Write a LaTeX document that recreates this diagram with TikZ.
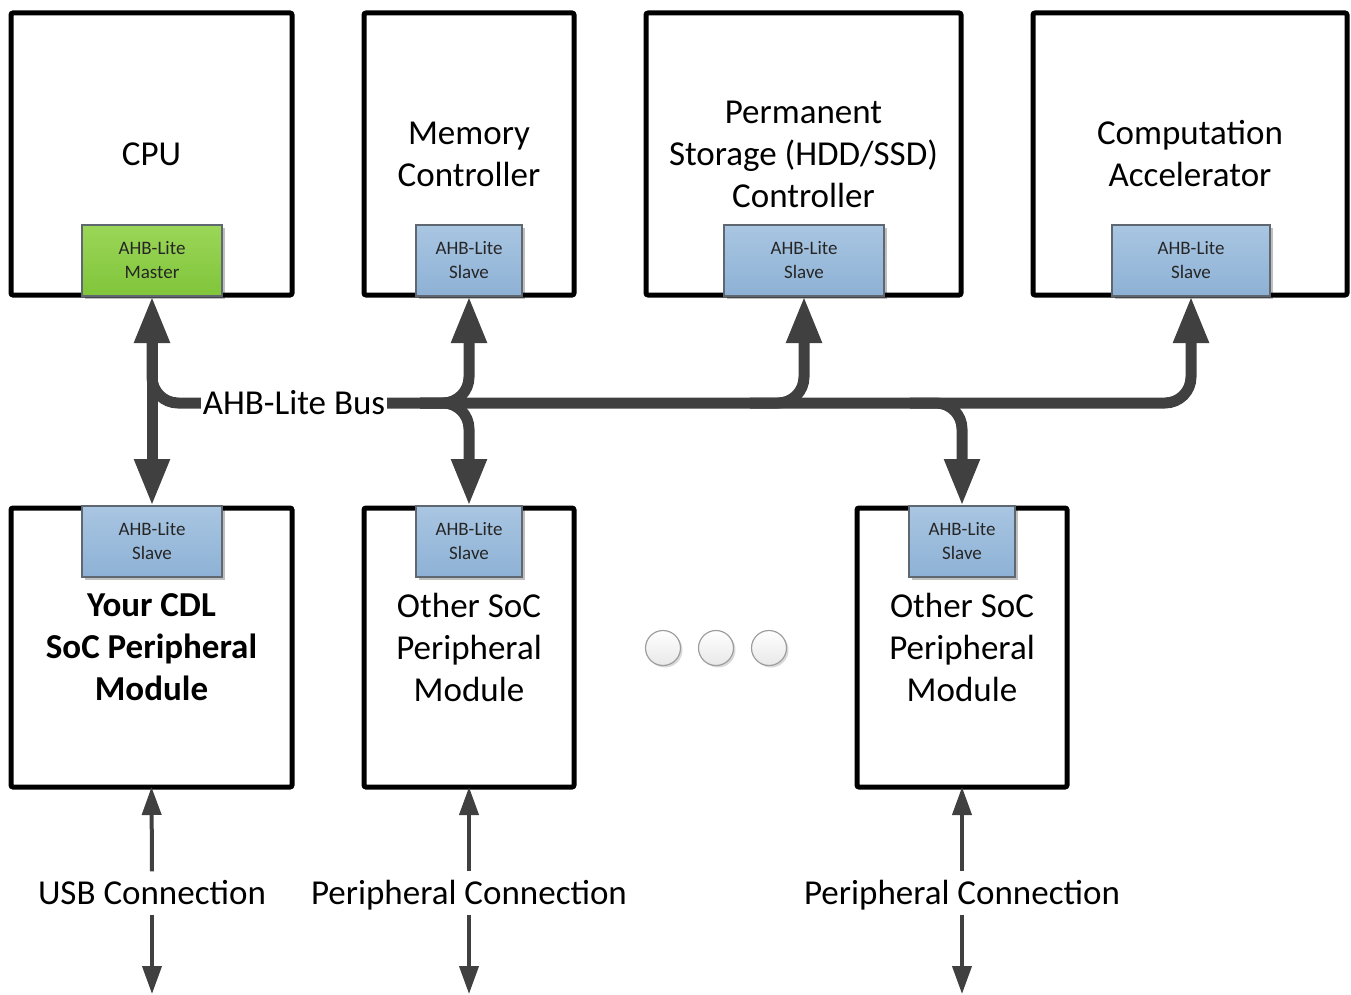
\documentclass[tikz,border=0pt]{standalone}
\usepackage{fontspec}
\setmainfont{Carlito}
\usetikzlibrary{arrows.meta,shadows}
\definecolor{busgray}{HTML}{404040}
\definecolor{bluetop}{HTML}{A9C6E2}
\definecolor{bluebot}{HTML}{8DB1D5}
\definecolor{greentop}{HTML}{9BD658}
\definecolor{greenbot}{HTML}{80C53A}
\definecolor{badgeline}{HTML}{5F6770}
\begin{document}
\begin{tikzpicture}[x=1pt,y=-1pt,
  box/.style={draw=black, line width=5pt, rounded corners=2pt, fill=white, align=center,
    font=\fontsize{35}{42}\selectfont, inner sep=0pt, outer sep=0pt},
  badge/.style={draw=badgeline, line width=1.3pt, align=center, inner sep=0pt, outer sep=0pt,
    minimum height=71pt, font=\fontsize{19}{24}\selectfont, text=black!85,
    drop shadow={shadow xshift=2.5pt, shadow yshift=-2.5pt, opacity=0.25, fill=black}},
  slave/.style={badge, top color=bluetop, bottom color=bluebot},
  master/.style={badge, top color=greentop, bottom color=greenbot},
  bus/.style={draw=busgray, line width=11pt, rounded corners=26pt},
  bigtip/.style={-{Triangle[width=33pt,length=47pt]}},
  thinarrow/.style={draw=busgray, line width=4pt, -{Triangle[width=19pt,length=28pt]}},
  conn/.style={font=\fontsize{35}{42}\selectfont, text height=23pt, text depth=0pt, inner xsep=0pt, inner ysep=10pt},
  dot/.style={circle, minimum size=35pt, inner sep=0pt, draw=black!38, line width=1.2pt,
    top color=white, bottom color=black!9,
    drop shadow={shadow xshift=2pt, shadow yshift=-2pt, opacity=0.15, fill=black}}
]
\useasboundingbox (0,0) rectangle (1351,995);

% top boxes
\node[box, minimum width=281pt, minimum height=282pt] (cpu) at (151.5,154) {CPU};
\node[box, minimum width=210pt, minimum height=282pt] (mem) at (469,154) {Memory\\Controller};
\node[box, minimum width=315pt, minimum height=282pt] (sto) at (803.5,154) {Permanent\\Storage (HDD/SSD)\\Controller};
\node[box, minimum width=314pt, minimum height=282pt] (acc) at (1190,154) {Computation\\Accelerator};

% bottom boxes
\node[box, minimum width=281pt, minimum height=279pt] (cdl) at (151.5,647.5) {\bfseries Your CDL\\\bfseries SoC Peripheral\\\bfseries Module};
\node[box, minimum width=210pt, minimum height=279pt] (oth1) at (469,647.5) {Other SoC\\Peripheral\\Module};
\node[box, minimum width=210pt, minimum height=279pt] (oth2) at (962,647.5) {Other SoC\\Peripheral\\Module};

% badges
\node[master, minimum width=140pt] (cpum) at (152,260.5) {AHB-Lite\\Master};
\node[slave, minimum width=106pt] (mems) at (469,260.5) {AHB-Lite\\Slave};
\node[slave, minimum width=160pt] (stos) at (804,260.5) {AHB-Lite\\Slave};
\node[slave, minimum width=158pt] (accs) at (1191,260.5) {AHB-Lite\\Slave};
\node[slave, minimum width=140pt] (cdls) at (152,541.5) {AHB-Lite\\Slave};
\node[slave, minimum width=106pt] (oth1s) at (469,541.5) {AHB-Lite\\Slave};
\node[slave, minimum width=106pt] (oth2s) at (962,541.5) {AHB-Lite\\Slave};

% bus
\coordinate (busy) at (0,403);
\coordinate (cpuy) at (152,340);
\coordinate (meml) at (420,403);
\coordinate (stol) at (750,403);
\coordinate (oth2l) at (910,403);
\draw[bus, bigtip] (cpuy) -- (cpum.south |- busy) -- (accs.south |- busy) -- (accs.south);
\draw[bus, bigtip] (meml) -- (mems.south |- busy) -- (mems.south);
\draw[bus, bigtip] (meml) -- (oth1s.north |- busy) -- (oth1s.north);
\draw[bus, bigtip] (stol) -- (stos.south |- busy) -- (stos.south);
\draw[bus, bigtip] (oth2l) -- (oth2s.north |- busy) -- (oth2s.north);
\draw[draw=busgray, line width=11pt, {Triangle[width=33pt,length=47pt]}-{Triangle[width=33pt,length=47pt]}] (cpum.south) -- (cdls.north);
\node[fill=white, inner xsep=1.5pt, inner ysep=2pt, font=\fontsize{35}{42}\selectfont] (buslbl) at (294,403) {AHB-Lite Bus};

% ellipsis dots
\node[dot] (d1) at (663,648) {};
\node[dot] (d2) at (716,648) {};
\node[dot] (d3) at (769,648) {};

% connections
\node[conn] (usb) at (152,893) {USB Connection};
\node[conn] (pc1) at (469,893) {Peripheral Connection};
\node[conn] (pc2) at (962,893) {Peripheral Connection};
\coordinate (usbe) at (152,994);
\coordinate (pc1e) at (469,994);
\coordinate (pc2e) at (962,994);
\draw[thinarrow] (usb.north) -- (cdl.south);
\draw[thinarrow] (usb.south) -- (usbe);
\draw[thinarrow] (pc1.north) -- (oth1.south);
\draw[thinarrow] (pc1.south) -- (pc1e);
\draw[thinarrow] (pc2.north) -- (oth2.south);
\draw[thinarrow] (pc2.south) -- (pc2e);
\end{tikzpicture}
\end{document}
